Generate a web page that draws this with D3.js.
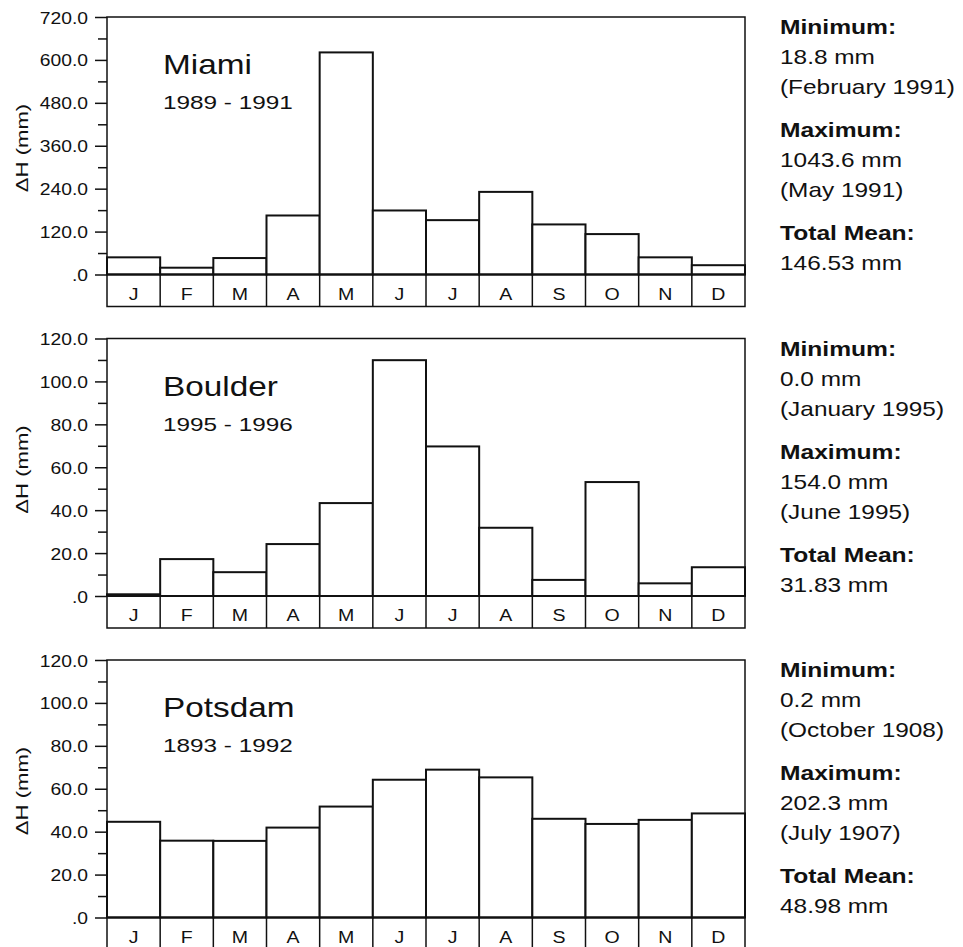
<!DOCTYPE html>
<html>
<head>
<meta charset="utf-8">
<script src="https://cdn.jsdelivr.net/npm/d3@7"></script>
<style>
  html, body { margin: 0; padding: 0; background: #fff; }
  svg { display: block; }
  text { font-family: "Liberation Sans", Arial, Helvetica, sans-serif; fill: #111; }
</style>
</head>
<body>
<svg id="chart" width="963" height="947"></svg>
<script>
// ---- data ----
const months = ["J","F","M","A","M","J","J","A","S","O","N","D"];
const stations = ["Miami", "Boulder", "Potsdam"];
const periods = ["1989 - 1991", "1995 - 1996", "1893 - 1992"];
const miamiValues   = [48, 19, 46, 165, 621, 179, 152, 231, 140, 113, 48, 26];
const boulderValues = [0.8, 17.2, 11.1, 24.2, 43.3, 109.9, 69.7, 31.8, 7.5, 53.1, 5.9, 13.4];
const potsdamValues = [44.6, 35.8, 35.7, 41.9, 51.7, 64.2, 68.9, 65.3, 46.0, 43.6, 45.5, 48.5];
const yMaxima = [720, 120, 120];
const majorSteps = [120, 20, 20];
const minTexts  = [["18.8 mm", "(February 1991)"], ["0.0 mm", "(January 1995)"], ["0.2 mm", "(October 1908)"]];
const maxTexts  = [["1043.6 mm", "(May 1991)"], ["154.0 mm", "(June 1995)"], ["202.3 mm", "(July 1907)"]];
const meanTexts = ["146.53 mm", "31.83 mm", "48.98 mm"];
const yLabel = "ΔH (mm)";

const series = [miamiValues, boulderValues, potsdamValues];

// ---- layout ----
const svg = d3.select("#chart");
const left = 107, right = 745;
const plotH = 257.5;
const rowH = 32;
const tops = [17, 338.5, 660];
const stroke = "#111";

function stext(g, x, y, str, size, opts = {}) {
  const sc = opts.scale || 1.2;
  const rot = opts.rotate || 0;
  return g.append("text")
    .attr("transform", `translate(${x},${y}) rotate(${rot}) scale(${sc},1)`)
    .attr("text-anchor", opts.anchor || "start")
    .attr("font-size", size)
    .attr("font-weight", opts.weight || "normal")
    .text(str);
}

const fmt = v => d3.format(".1f")(v).replace(/^0\./, ".");

series.forEach((vals, p) => {
  const top = tops[p];
  const zeroY = top + plotH;
  const g = svg.append("g");

  const x = d3.scaleBand().domain(d3.range(12)).range([left, right]).paddingInner(0).paddingOuter(0);
  const y = d3.scaleLinear().domain([0, yMaxima[p]]).range([zeroY, top]);

  // bars
  g.selectAll("rect.bar").data(vals).join("rect")
    .attr("class", "bar")
    .attr("x", (d, i) => x(i))
    .attr("y", d => y(d))
    .attr("width", x.bandwidth())
    .attr("height", d => zeroY - y(d))
    .attr("fill", "#fff")
    .attr("stroke", stroke)
    .attr("stroke-width", 2);

  // minor ticks
  const minorVals = d3.range(0, yMaxima[p] + 1e-9, majorSteps[p] / 2).filter(v => (v / majorSteps[p]) % 1 !== 0);
  const minorAxis = d3.axisLeft(y).tickValues(minorVals).tickSize(9).tickFormat("");
  const gm = g.append("g").attr("transform", `translate(${left},0)`).call(minorAxis);
  gm.select(".domain").remove();
  gm.selectAll("line").attr("stroke", stroke).attr("stroke-width", 1.5);

  // major ticks
  const majorVals = d3.range(0, yMaxima[p] + 1e-9, majorSteps[p]);
  const majorAxis = d3.axisLeft(y).tickValues(majorVals).tickSize(12).tickFormat(fmt);
  const ga = g.append("g").attr("transform", `translate(${left},0)`).call(majorAxis);
  ga.select(".domain").remove();
  ga.selectAll("line").attr("stroke", stroke).attr("stroke-width", 1.5);
  ga.selectAll("text")
    .attr("x", 0)
    .attr("dy", null)
    .attr("transform", "translate(-19,6) scale(1.17,1)")
    .attr("font-size", 16.5)
    .attr("font-family", "Liberation Sans, Arial, sans-serif")
    .attr("fill", "#111");

  // frame
  const bottom = zeroY + rowH;
  g.append("path")
    .attr("d", `M${left},${top}H${right}V${bottom}H${left}Z`)
    .attr("fill", "none").attr("stroke", stroke).attr("stroke-width", 1.5);
  g.append("line")
    .attr("x1", left).attr("x2", right).attr("y1", zeroY).attr("y2", zeroY)
    .attr("stroke", stroke).attr("stroke-width", 2);

  // month row separators and labels
  g.selectAll("line.sep").data(d3.range(1, 12)).join("line")
    .attr("class", "sep")
    .attr("x1", i => x(i)).attr("x2", i => x(i))
    .attr("y1", zeroY).attr("y2", bottom)
    .attr("stroke", stroke).attr("stroke-width", 1.5);
  months.forEach((m, i) => {
    stext(g, x(i) + x.bandwidth() / 2, zeroY + 25, m, 17, { anchor: "middle", scale: 1.15 });
  });

  // y label
  stext(g, 28, top + 131, yLabel, 17, { anchor: "middle", rotate: -90, scale: 1.3 });

  // station title
  stext(g, 163, top + 57, stations[p], 28, { scale: 1.19 });
  stext(g, 163, top + 92, periods[p], 19, { scale: 1.28 });

  // stats on the right
  const tx = 780;
  const b0 = top + 17;
  stext(g, tx, b0, "Minimum:", 20, { weight: "bold", scale: 1.23 });
  stext(g, tx, b0 + 30, minTexts[p][0], 20, { scale: 1.22 });
  stext(g, tx, b0 + 60, minTexts[p][1], 20, { scale: 1.22 });
  stext(g, tx, b0 + 103, "Maximum:", 20, { weight: "bold", scale: 1.23 });
  stext(g, tx, b0 + 133, maxTexts[p][0], 20, { scale: 1.22 });
  stext(g, tx, b0 + 163, maxTexts[p][1], 20, { scale: 1.22 });
  stext(g, tx, b0 + 206, "Total Mean:", 20, { weight: "bold", scale: 1.23 });
  stext(g, tx, b0 + 236, meanTexts[p], 20, { scale: 1.22 });
});
</script>
</body>
</html>
